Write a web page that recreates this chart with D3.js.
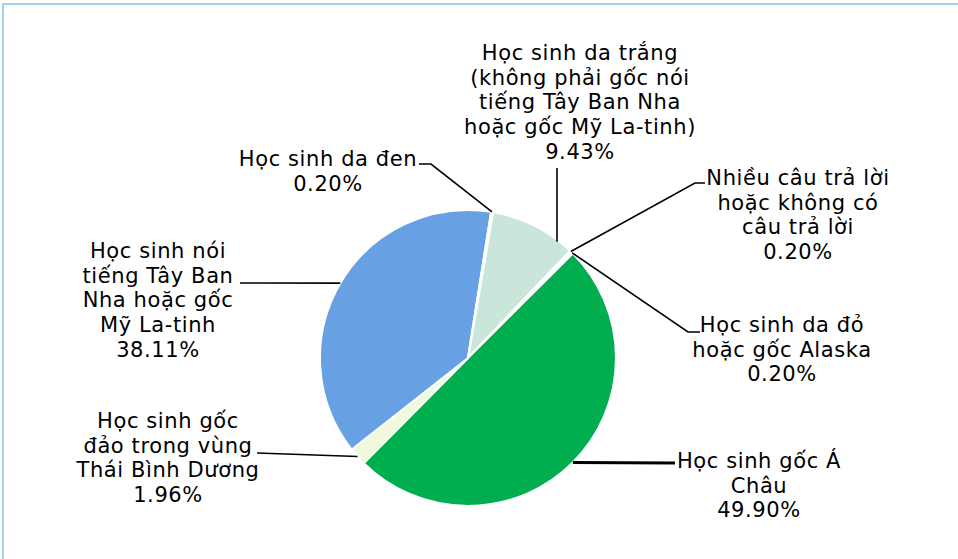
<!DOCTYPE html>
<html>
<head>
<meta charset="utf-8">
<script src="https://cdn.jsdelivr.net/npm/d3@7"></script>
<style>
  body { margin: 0; background: #fff; }
  svg { display: block; }
</style>
</head>
<body>
<script>
const w = 958
const h = 559
const body = d3.select("body")

// data, in slice order (clockwise)
const categories = [
	["Học sinh da trắng", "(không phải gốc nói", "tiếng Tây Ban Nha", "hoặc gốc Mỹ La-tinh)"],
	["Nhiều câu trả lời", "hoặc không có", "câu trả lời"],
	["Học sinh da đỏ", "hoặc gốc Alaska"],
	["Học sinh gốc Á", "Châu"],
	["Học sinh gốc", "đảo trong vùng", "Thái Bình Dương"],
	["Học sinh nói", "tiếng Tây Ban", "Nha hoặc gốc", "Mỹ La-tinh"],
	["Học sinh da đen"]
]
const values = [9.43, 0.20, 0.20, 49.90, 1.96, 38.11, 0.20]
const percentLabels = ["9.43%", "0.20%", "0.20%", "49.90%", "1.96%", "38.11%", "0.20%"]
const colors = ["#cae5da", "#f2f2f2", "#f2f2f2", "#00ae50", "#f0f9db", "#68a0e4", "#f2f2f2"]

// label layout: text centre, first baseline, elbow of the leader, where on the slice the leader ends
const labelX = [580, 798, 782, 759, 168, 158, 328]
const labelY = [60, 185, 332, 468, 428, 258, 166]
const elbows = [[557, 168], [705, 183], [700, 332], [675, 463], [257, 453], [240, 283], [419, 164]]
const elbowTo = [[557, 168], [695, 183], [688, 332], [675, 463], [257, 453], [240, 283], [431, 164]]
const leaderFrac = [0.78, 0.5, 0.5, 0.5, 0.5, 0.5, 0.5]

const cx = 468
const cy = 358
const radius = 148
const fontSize = 21
const lineH = 24.7

let svg = body.append("svg")
	.attr("width", w)
	.attr("height", h)

// frame
svg.append("rect")
	.attr("x", 3)
	.attr("y", 4)
	.attr("width", w + 10)
	.attr("height", h + 10)
	.attr("fill", "none")
	.attr("stroke", "#a3d3f0")
	.attr("stroke-width", 2)

let pie = d3.pie()
	.sort(null)
	.value(d => d)
	.startAngle(9.7 * Math.PI / 180)
	.endAngle(9.7 * Math.PI / 180 + 2 * Math.PI)

let arcs = pie(values)

let arc = d3.arc()
	.innerRadius(0)
	.outerRadius(radius)

let g = svg.append("g")
	.attr("transform", "translate(" + cx + "," + cy + ")")

g.selectAll("path")
	.data(arcs)
	.enter()
	.append("path")
	.attr("d", arc)
	.attr("fill", (d, i) => colors[i])
	.attr("stroke", "#fff")
	.attr("stroke-width", 2)
	.attr("stroke-linejoin", "round")

// leader lines
let edgePoint = function(d, i) {
	let a = d.startAngle + leaderFrac[i] * (d.endAngle - d.startAngle)
	return [cx + radius * Math.sin(a), cy - radius * Math.cos(a)]
}

svg.selectAll("polyline.leader")
	.data(arcs)
	.enter()
	.append("polyline")
	.attr("class", "leader")
	.attr("fill", "none")
	.attr("stroke", "#000")
	.attr("stroke-width", (d, i) => i === 3 ? 3 : 1.6)
	.attr("points", (d, i) => {
		let p = edgePoint(d, i)
		if (i === 0) {
			// white slice: straight down from the label
			return [[elbows[i][0], elbows[i][1]], [elbows[i][0], cy - Math.sqrt(radius * radius - Math.pow(elbows[i][0] - cx, 2)) + 2]].map(q => q.join(",")).join(" ")
		}
		return [elbows[i], elbowTo[i], p].map(q => q.join(",")).join(" ")
	})

// labels
let labels = svg.selectAll("text.label")
	.data(arcs)
	.enter()
	.append("text")
	.attr("class", "label")
	.attr("text-anchor", "middle")
	.attr("font-family", "'DejaVu Sans', Verdana, sans-serif")
	.attr("font-size", fontSize)
	.attr("letter-spacing", 0.6)
	.attr("fill", "#000")

labels.each(function(d, i) {
	let t = d3.select(this)
	let lines = categories[i].concat([percentLabels[i]])
	lines.forEach((s, k) => {
		t.append("tspan")
			.attr("x", labelX[i])
			.attr("y", labelY[i] + k * lineH)
			.text(s)
	})
})
</script>
</body>
</html>
